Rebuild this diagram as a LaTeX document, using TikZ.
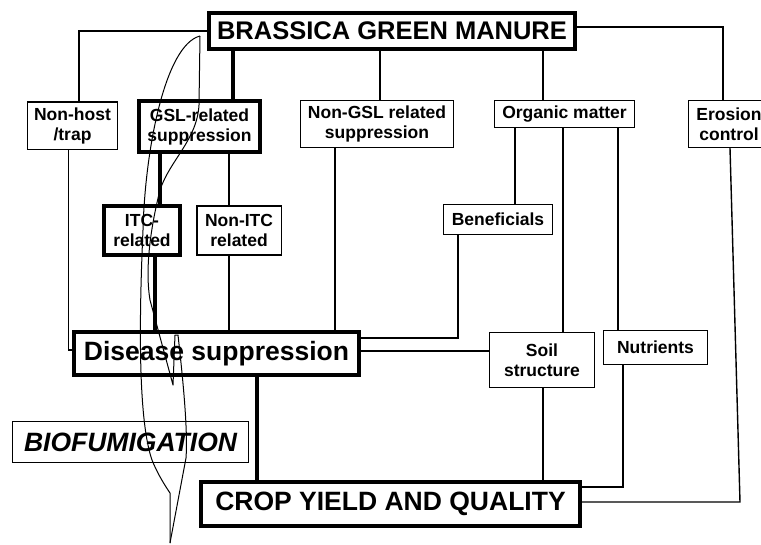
\documentclass[tikz,border=0pt]{standalone}
\usepackage{fontspec}
\setmainfont{Liberation Sans}
\usetikzlibrary{positioning}
\tikzset{
    base/.style={draw, align=center, inner sep=0pt, font=\fontsize{17.5}{20}\selectfont\bfseries},
    box/.style={base, line width=1.5pt},
    heavybox/.style={base, line width=4pt},
    bigbox/.style={heavybox, font=\fontsize{25.5}{30}\selectfont\bfseries},
    link/.style={draw, line width=1.4pt},
    heavylink/.style={draw, line width=4.5pt},
    lasso/.style={draw, line width=1pt, line join=round}
}
\begin{document}
\begin{tikzpicture}[x=1pt, y=-1pt]
    \useasboundingbox (0,0) rectangle (761,544);
    % Nodes
    \node [bigbox, minimum width=366, minimum height=36] (bgm) at (392, 31) {BRASSICA GREEN MANURE};
    \node [box, minimum width=90, minimum height=47.5] (nonhost) at (72.5, 125.5) {Non-host\\/trap};
    \node [heavybox, minimum width=121, minimum height=51] (gsl) at (199.5, 126.5) {GSL-related\\suppression};
    \node [box, minimum width=152.6, minimum height=46.6] (nongsl) at (377, 124) {Non-GSL related\\suppression};
    \node [box, minimum width=139.6, minimum height=26.6] (organic) at (564.5, 114) {Organic matter};
    \node [box, minimum width=80.6, minimum height=46.6] (erosion) at (729, 124) {Erosion\\control};

    \node [heavybox, minimum width=76, minimum height=49] (itc) at (142, 230.5) {ITC-\\related};
    \node [box, minimum width=84.6, minimum height=48.6, right=14pt of itc] (nonitc) {Non-ITC\\related};
    \node [box, minimum width=108.6, minimum height=29.6] (benef) at (498, 219.5) {Beneficials};

    \node [bigbox, minimum width=285, minimum height=43, font=\fontsize{26.5}{30}\selectfont\bfseries] (ds) at (216.5, 353.5) {Disease suppression};
    \node [box, minimum width=104.6, minimum height=54.6] (soil) at (542, 360) {Soil\\structure};
    \node [box, minimum width=103.6, minimum height=33.6] (nutr) at (655.5, 347.5) {Nutrients};

    \node [box, minimum width=235.6, minimum height=40.6, font=\fontsize{26.5}{30}\selectfont\bfseries\itshape] (bio) at (130.5, 442) {BIOFUMIGATION};
    \node [bigbox, minimum width=379, minimum height=44, font=\fontsize{26.5}{30}\selectfont\bfseries] (cyq) at (390.5, 504) {CROP YIELD AND QUALITY};

    % Columns of the vertical links
    \coordinate (c1) at (233, 0);
    \coordinate (c2) at (380, 0);
    \coordinate (c3) at (543, 0);
    \coordinate (c4) at (160, 0);
    \coordinate (c5) at (229, 0);
    \coordinate (c6) at (155, 0);
    \coordinate (c7) at (335, 0);
    \coordinate (c8) at (515, 0);
    \coordinate (c9) at (563, 0);
    \coordinate (c10) at (618, 0);
    \coordinate (c11) at (257, 0);

    % Connections
    \draw [link] (bgm.west) -| ([xshift=6.5]nonhost.north);
    \draw [heavylink] (c1 |- bgm.south) -- (c1 |- gsl.north);
    \draw [link] (c2 |- bgm.south) -- (c2 |- nongsl.north);
    \draw [link] (c3 |- bgm.south) -- (c3 |- organic.north);
    \draw [link] ([yshift=4]bgm.east) -| ([xshift=-6]erosion.north);

    \draw [link] ([xshift=-4]nonhost.south) |- ([yshift=3.5]ds.west);
    \draw [heavylink] (c4 |- gsl.south) -- (c4 |- itc.north);
    \draw [link] (c5 |- gsl.south) -- (c5 |- nonitc.north);
    \draw [heavylink] (c6 |- itc.south) -- (c6 |- ds.north);
    \draw [link] (c5 |- nonitc.south) -- (c5 |- ds.north);
    \draw [link] (c7 |- nongsl.south) -- (c7 |- ds.north);

    \draw [link] (c8 |- organic.south) -- (c8 |- benef.north);
    \draw [link] (c9 |- organic.south) -- (c9 |- soil.north);
    \draw [link] (c10 |- organic.south) -- (c10 |- nutr.north);
    \draw [link] ([xshift=-40]benef.south) |- ([yshift=15.5]ds.east);
    \draw [link] ([yshift=2.5]ds.east) -- ([yshift=9]soil.west);

    \draw [heavylink] (c11 |- ds.south) -- (c11 |- cyq.north);
    \draw [link] (c3 |- soil.south) -- (c3 |- cyq.north);
    \draw [link] ([xshift=-32.5]nutr.south) |- ([yshift=17]cyq.east);
    \draw [link] ([xshift=1]erosion.south) -- ([xshift=158, yshift=2]cyq.east) -- ([yshift=2]cyq.east);

    % Hand-drawn loop round the biofumigation path
    \draw [lasso] (200,36) .. controls (165,45) and (145,150) .. (143,230)
        .. controls (139,320) and (138,420) .. (152,460)
        .. controls (158,475) and (166,487) .. (170,493) -- (170,543);
    \draw [lasso] (200,36) -- (199,105) .. controls (197,140) and (170,160) .. (160,190)
        .. controls (150,230) and (145,270) .. (150,300) -- (173,385) -- (175,335) -- (178,335)
        .. controls (183,380) and (188,430) .. (186,458) -- (170,543);
\end{tikzpicture}
\end{document}
